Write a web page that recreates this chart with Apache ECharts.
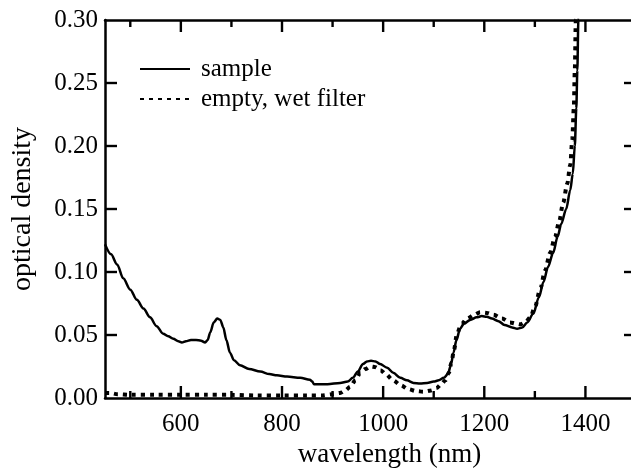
<!DOCTYPE html>
<html>
<head>
<meta charset="utf-8">
<script src="https://cdn.jsdelivr.net/npm/echarts@6/dist/echarts.min.js"></script>
<style>html,body{margin:0;padding:0;background:#fff}#c{width:631px;height:469px}</style>
</head>
<body>
<div id="c"></div>
<script>
// wavelength (nm) and optical density for the sample
const sampleWl = [450,462,474,486,500,513,526,539,552,565,575,585,595,602,610,620,630,640,648,653,658,665,672,678,684,690,697,705,717,735,757,775,790,810,836,855,860,863,870,890,915,930,940,950,960,968,976,985,994,1008,1020,1034,1047,1060,1073,1087,1100,1110,1120,1128,1134,1139,1145,1152,1160,1172,1185,1195,1205,1215,1228,1240,1255,1265,1275,1285,1297,1308,1317,1326,1336,1345,1352,1362,1370,1375,1379,1382,1384,1386,1388];
const sampleOD = [0.122,0.114,0.106,0.095,0.086,0.078,0.071,0.064,0.057,0.051,0.049,0.047,0.045,0.044,0.045,0.046,0.046,0.0455,0.044,0.046,0.052,0.060,0.063,0.062,0.056,0.046,0.036,0.030,0.026,0.023,0.021,0.019,0.018,0.017,0.016,0.0145,0.013,0.011,0.011,0.011,0.012,0.013,0.016,0.021,0.027,0.029,0.0295,0.029,0.027,0.024,0.020,0.016,0.014,0.012,0.0115,0.012,0.013,0.014,0.016,0.019,0.026,0.036,0.046,0.055,0.059,0.062,0.064,0.065,0.0645,0.063,0.061,0.058,0.056,0.055,0.056,0.060,0.067,0.080,0.092,0.104,0.115,0.128,0.138,0.150,0.165,0.178,0.200,0.230,0.260,0.300,0.320];
// wavelength (nm) and optical density for the empty, wet filter
const filterWl = [450,460,475,500,550,600,650,700,750,800,850,880,900,915,925,935,945,955,965,975,985,995,1005,1020,1035,1050,1065,1080,1095,1106,1115,1123,1130,1135,1140,1146,1155,1166,1180,1192,1205,1218,1235,1251,1263,1271,1281,1291,1300,1311,1320,1330,1340,1348,1356,1364,1370,1374,1377,1379,1381,1383];
const filterOD = [0.004,0.004,0.003,0.0025,0.0025,0.0025,0.0025,0.0025,0.002,0.002,0.002,0.002,0.003,0.004,0.006,0.009,0.014,0.020,0.023,0.025,0.0245,0.022,0.019,0.014,0.010,0.007,0.0055,0.005,0.006,0.008,0.011,0.014,0.020,0.028,0.038,0.051,0.059,0.063,0.066,0.068,0.0675,0.066,0.063,0.060,0.059,0.0585,0.060,0.064,0.072,0.087,0.101,0.115,0.128,0.140,0.155,0.170,0.185,0.205,0.230,0.260,0.300,0.320];
// axis ranges and tick values
const xRange = [450, 1500];
const yRange = [0, 0.30];
const yStep = 0.05;
const majorTicksX = [600, 800, 1000, 1200, 1400];
const minorTicksX = [500, 700, 900, 1100, 1300, 1500];
const ticksY = [0.05, 0.10, 0.15, 0.20, 0.25];
const seriesNames = ['sample', 'empty, wet filter'];
const xTitle = 'wavelength (nm)';
const yTitle = 'optical density';

const FONT = "'Liberation Serif', 'Times New Roman', Times, serif";
const pairs = (xs, ys) => xs.map((x, i) => [x, ys[i]]);
function spine(){ return {show:true, onZero:false, lineStyle:{color:'#000', width:2.5}}; }

const chart = echarts.init(document.getElementById('c'));
chart.setOption({
  animation:false,
  backgroundColor:'#fff',
  grid:{left:105, right:-5, top:20, bottom:71, containLabel:false, outerBoundsMode:'none'},
  legend:{
    show:true, orient:'vertical', left:134, top:49, itemWidth:50, itemHeight:14, itemGap:0,
    data: seriesNames, itemStyle:{opacity:0},
    textStyle:{color:'#000', fontFamily:FONT, fontSize:25, lineHeight:30, padding:[0,0,0,6]}
  },
  xAxis:[
    {type:'value', position:'bottom', min:xRange[0], max:xRange[1], interval:50,
     axisLine:spine(), axisTick:{show:false},
     axisLabel:{show:true, margin:14, color:'#000', fontFamily:FONT, fontSize:25,
                formatter:v => (majorTicksX.indexOf(v) >= 0 ? String(v) : '')},
     splitLine:{show:false},
     name:xTitle, nameLocation:'middle', nameGap:43,
     nameTextStyle:{color:'#000', fontFamily:FONT, fontSize:27, padding:[0,0,0,38]}},
    {type:'value', position:'top', min:xRange[0], max:xRange[1],
     axisLine:spine(), axisTick:{show:false}, axisLabel:{show:false}, splitLine:{show:false}}
  ],
  yAxis:[
    {type:'value', position:'left', min:yRange[0], max:yRange[1], interval:yStep,
     axisLine: spine(), axisTick:{show:false},
     axisLabel:{show:true, margin:7, color:'#000', fontFamily:FONT, fontSize:25, formatter:v => v.toFixed(2)},
     splitLine:{show:false},
     name:yTitle, nameLocation:'middle', nameRotate:90, nameGap:68,
     nameTextStyle:{color:'#000', fontFamily:FONT, fontSize:28}},
    {type:'value', position:'right', min:yRange[0], max:yRange[1], interval:yStep,
     axisLine: spine(), axisTick:{show:false}, axisLabel:{show:false}, splitLine:{show:false}}
  ],
  series:[
    {name:seriesNames[0], type:'line', data:pairs(sampleWl, sampleOD), symbol:'none', smooth:0.3, smoothMonotone:'x', clip:true,
     lineStyle:{color:'#000', width:2.5, type:'solid'}, itemStyle:{color:'#000'}},
    {name:seriesNames[1], type:'line', data:pairs(filterWl, filterOD), symbol:'none', smooth:0.3, smoothMonotone:'x', clip:true,
     lineStyle:{color:'#000', width:4, type:[4,5], cap:'butt'}, itemStyle:{color:'#000'}}
  ]
});

// inward tick marks placed through the chart's own scales
const P = v => chart.convertToPixel({xAxisIndex:0, yAxisIndex:0}, v);
const tickEls = [];
function seg(x1, y1, x2, y2){
  tickEls.push({type:'line', z:100, silent:true, shape:{x1:x1, y1:y1, x2:x2, y2:y2}, style:{stroke:'#000', lineWidth:2.4}});
}
function xTicks(vals, len){
  vals.forEach(v => {
    const b = P([v, yRange[0]]), t = P([v, yRange[1]]);
    seg(b[0], b[1], b[0], b[1] - len);
    seg(t[0], t[1], t[0], t[1] + len);
  });
}
function yTicks(vals, len){
  vals.forEach(v => {
    const l = P([xRange[0], v]), r = P([xRange[1], v]);
    seg(l[0], l[1], l[0] + len, l[1]);
    seg(r[0], r[1], r[0] - len, r[1]);
  });
}
xTicks(majorTicksX, 12);
xTicks(minorTicksX, 7);
yTicks(ticksY, 12);
chart.setOption({graphic:{elements:tickEls}});
</script>
</body>
</html>
